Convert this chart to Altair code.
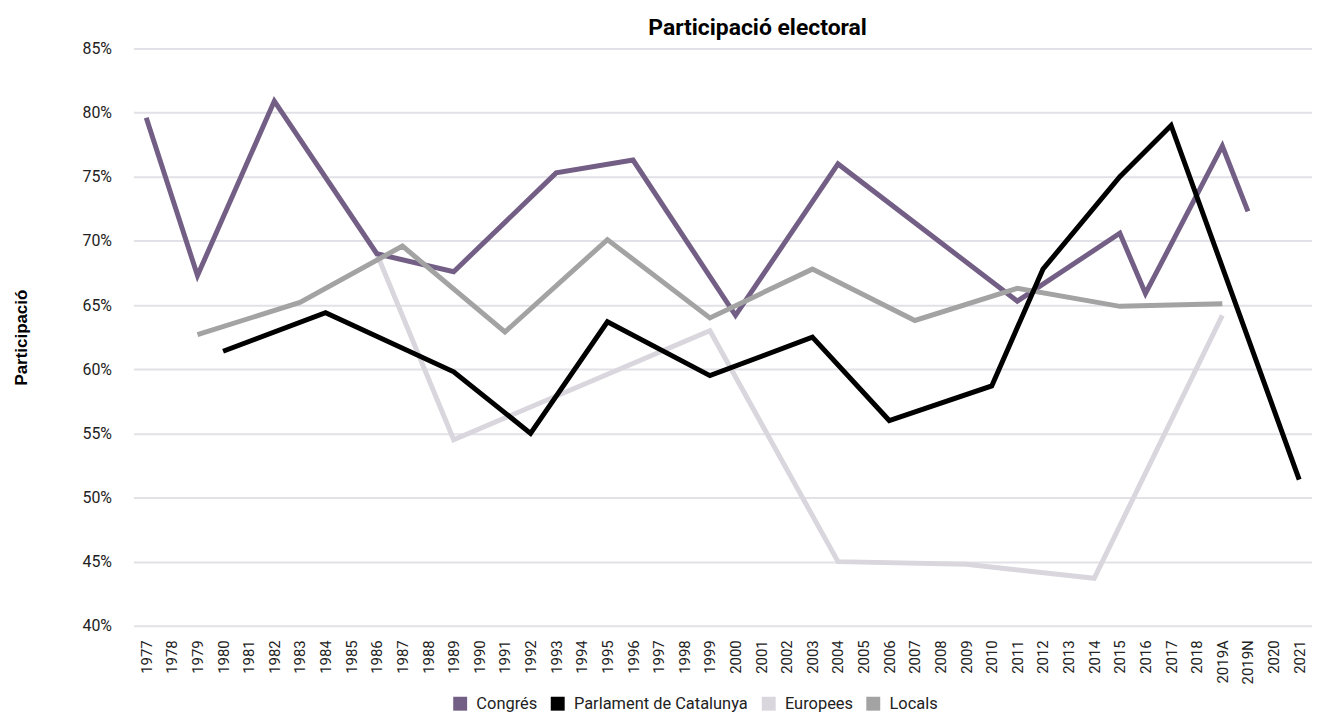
import altair as alt
import pandas as pd

years = ["1977", "1978", "1979", "1980", "1981", "1982", "1983", "1984", "1985", "1986",
         "1987", "1988", "1989", "1990", "1991", "1992", "1993", "1994", "1995", "1996",
         "1997", "1998", "1999", "2000", "2001", "2002", "2003", "2004", "2005", "2006",
         "2007", "2008", "2009", "2010", "2011", "2012", "2013", "2014", "2015", "2016",
         "2017", "2018", "2019A", "2019N", "2020", "2021"]

series_names = ["Congrés", "Parlament de Catalunya", "Europees", "Locals"]
series_colors = ["#735f85", "#000000", "#d9d7dd", "#a3a3a3"]

congres = {"1977": 79.6, "1979": 67.3, "1982": 80.9, "1986": 69.0, "1989": 67.6,
           "1993": 75.3, "1996": 76.3, "2000": 64.2, "2004": 76.0, "2011": 65.3,
           "2015": 70.6, "2016": 65.9, "2019A": 77.4, "2019N": 72.3}
parlament = {"1980": 61.4, "1984": 64.4, "1989": 59.8, "1992": 55.0, "1995": 63.7,
             "1999": 59.5, "2003": 62.5, "2006": 56.0, "2010": 58.7, "2012": 67.8,
             "2015": 75.0, "2017": 79.0, "2021": 51.4}
europees = {"1986": 69.0, "1989": 54.5, "1999": 63.0, "2004": 45.0, "2009": 44.8,
            "2014": 43.7, "2019A": 64.2}
locals_ = {"1979": 62.7, "1983": 65.2, "1987": 69.6, "1991": 62.9, "1995": 70.1,
           "1999": 64.0, "2003": 67.8, "2007": 63.8, "2011": 66.3, "2015": 64.9,
           "2019A": 65.1}

y_ticks = [40, 45, 50, 55, 60, 65, 70, 75, 80, 85]

rows = []
for name, d in zip(series_names, [congres, parlament, europees, locals_]):
    for y in years:
        if y in d:
            rows.append({"Any": y, "Sèrie": name, "Valor": d[y]})
df = pd.DataFrame(rows)

color = alt.Color(
    "Sèrie:N",
    scale=alt.Scale(domain=series_names, range=series_colors),
    legend=alt.Legend(
        title=None, orient="none", direction="horizontal",
        legendX=320, legendY=650,
        symbolType="square", symbolSize=30, symbolStrokeWidth=8.5,
        symbolOpacity=1, labelLimit=400,
        labelFont="Roboto", labelFontSize=16.5, labelColor="#222222",
        labelOffset=8, columnPadding=0,
    ),
)

x = alt.X(
    "Any:O", sort=years,
    scale=alt.Scale(domain=years, padding=0.5),
    axis=alt.Axis(title=None, labelAngle=-90, ticks=False, domain=False,
                  labelFont="Roboto", labelFontSize=15, labelColor="#222222",
                  labelPadding=14, grid=False),
)
y = alt.Y(
    "Valor:Q",
    scale=alt.Scale(domain=[40, 85], nice=False, zero=False),
    axis=alt.Axis(values=y_ticks, labelExpr="datum.value + '%'",
                  title="Participació", titleFont="Liberation Sans",
                  titleFontSize=17, titleFontWeight="bold", titleColor="#000000",
                  titlePadding=52,
                  labelFont="Roboto", labelFontSize=16, labelColor="#222222",
                  labelPadding=22, ticks=False, domain=False,
                  grid=True, gridColor="#e2e1e7", gridWidth=2),
)

base = alt.Chart(df).mark_line(strokeWidth=5, strokeJoin="miter").encode(
    x=x, y=y, color=color, order=alt.Order("Any:O")
)

draw_order = ["Europees", "Congrés", "Locals", "Parlament de Catalunya"]
layers = [base.transform_filter(alt.datum["Sèrie"] == s) for s in draw_order]

chart = alt.layer(*layers).properties(
    width=1184, height=580,
    padding={"left": 4, "top": 7, "right": 0, "bottom": 0},
    title=alt.TitleParams("Participació electoral", font="Roboto", fontSize=23,
                          fontWeight="bold", color="#000000", anchor="middle",
                          dx=35, offset=1),
).configure_view(stroke=None)

chart.save("out.html", embed_options={"renderer": "svg", "actions": False})
